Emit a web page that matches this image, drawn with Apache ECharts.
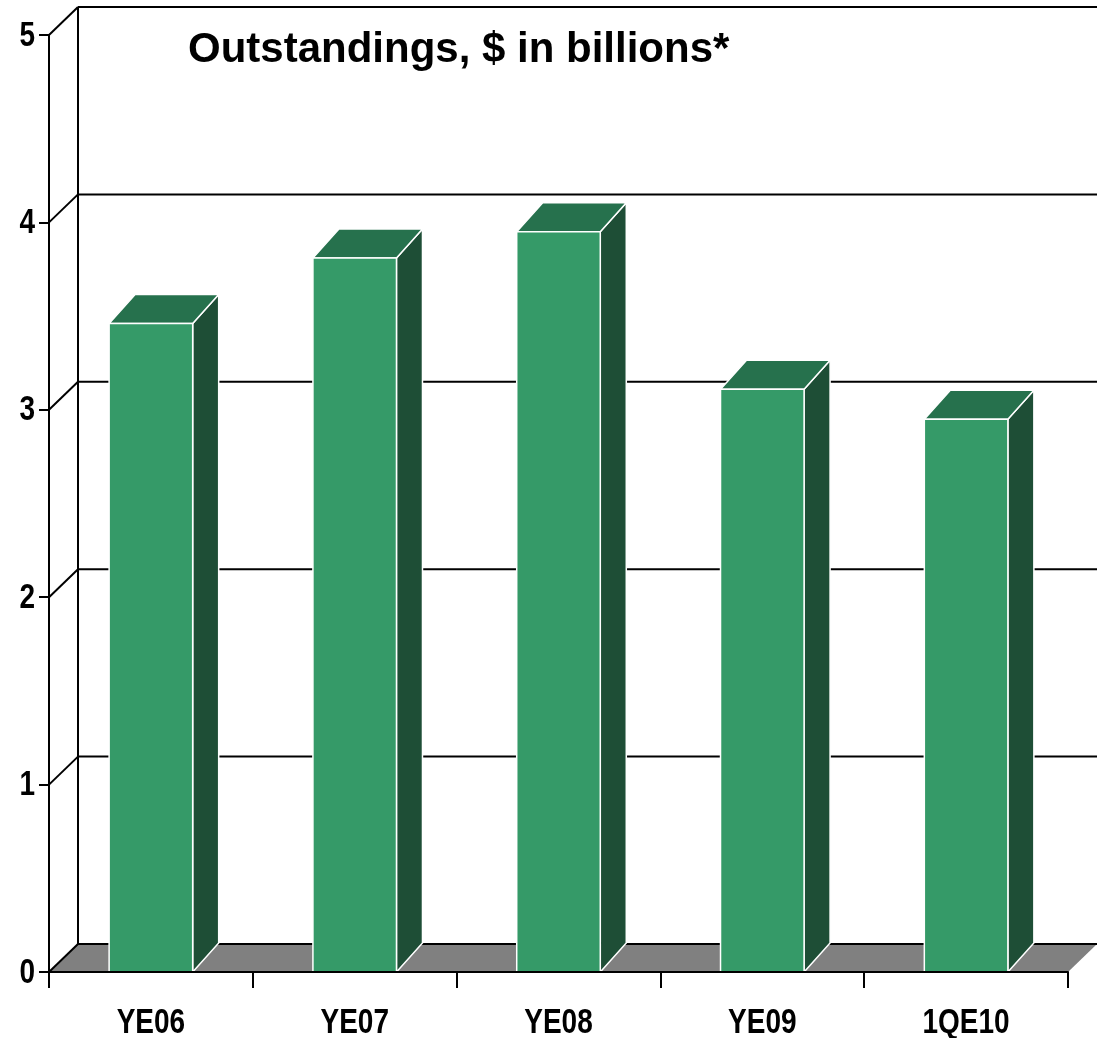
<!DOCTYPE html>
<html>
<head>
<meta charset="utf-8">
<script src="https://cdn.jsdelivr.net/npm/echarts@6/dist/echarts.min.js"></script>
<style>
  html, body { margin: 0; padding: 0; background: #fff; }
  #chart { width: 1097px; height: 1038px; }
</style>
</head>
<body>
<div id="chart"></div>
<script>
  // data
  var categories = ['YE06', 'YE07', 'YE08', 'YE09', '1QE10'];
  var outstandings = [3.46, 3.81, 3.95, 3.11, 2.95];
  var yTicks = [0, 1, 2, 3, 4, 5];

  // no narrow font installed, so labels are squeezed by hand
  var labelFont = "'Liberation Sans', Arial, sans-serif";
  var squeeze = 0.8;

  // depth of the back wall and of the boxes
  var wallDx = 29, wallDy = 28;
  var barDx = 26, barDy = 29;

  var chart = echarts.init(document.getElementById('chart'));

  function labelText(x, y, text, align) {
    return {
      type: 'text',
      x: x,
      y: y,
      scaleX: squeeze,
      style: {
        text: text,
        fill: '#000',
        fontFamily: labelFont,
        fontWeight: 'bold',
        fontSize: 35,
        align: align,
        verticalAlign: 'middle'
      }
    };
  }

  function renderWall(params, api) {
    var cs = params.coordSys;
    var v = api.value(0);
    var y = api.coord([0, v])[1];
    var left = cs.x, right = cs.x + cs.width;
    var lineStyle = { stroke: '#000', lineWidth: 2 };
    var children = [];
    if (v === 0) {
      children.push({
        type: 'polygon',
        shape: { points: [[left, y], [right, y], [right + wallDx, y - wallDy], [left + wallDx, y - wallDy]] },
        style: { fill: '#808080' }
      });
      // back wall upright
      var yTop = api.coord([0, yTicks[yTicks.length - 1]])[1];
      children.push({
        type: 'line',
        shape: { x1: left + wallDx, y1: y - wallDy, x2: left + wallDx, y2: yTop - wallDy },
        style: lineStyle
      });
    }
    children.push({
      type: 'line',
      shape: { x1: left, y1: y, x2: left + wallDx, y2: y - wallDy },
      style: lineStyle
    });
    children.push({
      type: 'line',
      shape: { x1: left + wallDx, y1: y - wallDy, x2: right + wallDx, y2: y - wallDy },
      style: lineStyle
    });
    // tick label
    children.push(labelText(left - 14, y + 1, String(v), 'right'));
    return { type: 'group', children: children };
  }

  function renderBar(params, api) {
    var i = api.value(0);
    var base = api.coord([i, 0]);
    var top = api.coord([i, api.value(1)]);
    var w = api.size([1, 0])[0] * 0.41;
    var x0 = base[0] - w / 2, x1 = base[0] + w / 2;
    var yb = base[1], yt = top[1];
    var edge = { stroke: '#fff', lineWidth: 1.5 };
    return {
      type: 'group',
      children: [
        {
          type: 'polygon',
          shape: { points: [[x1, yt], [x1 + barDx, yt - barDy], [x1 + barDx, yb - barDy], [x1, yb]] },
          style: Object.assign({ fill: '#1e4e36' }, edge)
        },
        {
          type: 'polygon',
          shape: { points: [[x0, yt], [x0 + barDx, yt - barDy], [x1 + barDx, yt - barDy], [x1, yt]] },
          style: Object.assign({ fill: '#26714d' }, edge)
        },
        {
          type: 'rect',
          shape: { x: x0, y: yt, width: w, height: yb - yt },
          style: Object.assign({ fill: '#359a68' }, edge)
        },
        labelText(base[0], yb + 51, categories[i], 'center')
      ]
    };
  }

  var option = {
    backgroundColor: '#fff',
    animation: false,
    title: {
      text: 'Outstandings, $ in billions*',
      left: 188,
      top: 29,
      padding: 0,
      textStyle: {
        fontFamily: "'Liberation Sans', Arial, sans-serif",
        fontWeight: 'bold',
        fontSize: 42,
        color: '#000'
      }
    },
    grid: { left: 49, right: 29, top: 35, bottom: 66, containLabel: false },
    xAxis: {
      type: 'category',
      data: categories,
      z: 5,
      axisLine: { lineStyle: { color: '#000', width: 2 } },
      axisTick: { show: true, length: 16, lineStyle: { color: '#000', width: 2 } },
      axisLabel: { show: false },
      splitLine: { show: false }
    },
    yAxis: {
      type: 'value',
      min: 0,
      max: 5,
      interval: 1,
      z: 5,
      axisLine: { show: true, lineStyle: { color: '#000', width: 2 } },
      axisTick: { show: true, length: 10, lineStyle: { color: '#000', width: 2 } },
      axisLabel: { show: false },
      splitLine: { show: false }
    },
    series: [
      {
        type: 'custom',
        name: 'walls',
        z: 1,
        silent: true,
        clip: false,
        renderItem: renderWall,
        data: yTicks.map(function (t) { return [t]; }),
        encode: { y: 0 }
      },
      {
        type: 'custom',
        name: 'Outstandings',
        z: 3,
        clip: false,
        renderItem: renderBar,
        data: outstandings.map(function (v, i) { return [i, v]; }),
        encode: { x: 0, y: 1 }
      }
    ]
  };

  chart.setOption(option);
</script>
</body>
</html>
